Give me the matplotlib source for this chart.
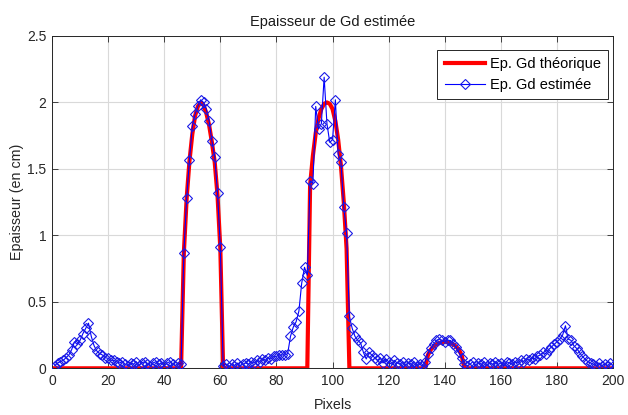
import matplotlib
matplotlib.use("Agg")
import matplotlib.pyplot as plt
import numpy as np

plt.rcParams['font.family'] = ['Liberation Sans', 'DejaVu Sans']

# Pixel positions 1..200
pixels = list(range(1, 201))

# Estimated thickness (blue, diamonds), one value per pixel
estimated = [
    0.02, 0.04, 0.05, 0.06, 0.08, 0.10, 0.14, 0.20, 0.18, 0.21,   # 1-10
    0.26, 0.30, 0.34, 0.24, 0.17, 0.13, 0.11, 0.10, 0.08, 0.075,  # 11-20
    0.06, 0.06, 0.05, 0.04, 0.05, 0.03, 0.02, 0.04, 0.03, 0.05,   # 21-30
    0.02, 0.04, 0.05, 0.03, 0.02, 0.04, 0.05, 0.03, 0.04, 0.02,   # 31-40
    0.04, 0.05, 0.03, 0.02, 0.04, 0.03, 0.87, 1.28, 1.57, 1.82,   # 41-50
    1.91, 1.97, 2.02, 2.00, 1.95, 1.86, 1.71, 1.59, 1.32, 0.91,   # 51-60
    0.02, 0.03, 0.01, 0.03, 0.02, 0.04, 0.02, 0.03, 0.04, 0.03,   # 61-70
    0.05, 0.04, 0.06, 0.05, 0.07, 0.06, 0.08, 0.07, 0.09, 0.09,   # 71-80
    0.10, 0.10, 0.10, 0.11, 0.24, 0.31, 0.35, 0.43, 0.64, 0.76,   # 81-90
    0.70, 1.41, 1.39, 1.97, 1.80, 1.84, 2.19, 1.84, 1.70, 1.72,   # 91-100
    2.02, 1.61, 1.55, 1.21, 1.02, 0.39, 0.30, 0.24, 0.21, 0.19,   # 101-110
    0.12, 0.07, 0.12, 0.10, 0.08, 0.06, 0.08, 0.04, 0.07, 0.05,   # 111-120
    0.03, 0.06, 0.04, 0.03, 0.05, 0.02, 0.04, 0.03, 0.05, 0.02,   # 121-130
    0.03, 0.02, 0.05, 0.11, 0.15, 0.18, 0.21, 0.22, 0.21, 0.20,   # 131-140
    0.21, 0.21, 0.18, 0.16, 0.12, 0.08, 0.03, 0.02, 0.03, 0.05,   # 141-150
    0.02, 0.04, 0.03, 0.05, 0.02, 0.04, 0.03, 0.05, 0.03, 0.04,   # 151-160
    0.02, 0.05, 0.04, 0.03, 0.05, 0.04, 0.06, 0.05, 0.07, 0.06,   # 161-170
    0.08, 0.07, 0.09, 0.10, 0.12, 0.11, 0.14, 0.16, 0.18, 0.20,   # 171-180
    0.22, 0.25, 0.32, 0.22, 0.21, 0.17, 0.15, 0.12, 0.09, 0.07,   # 181-190
    0.05, 0.04, 0.03, 0.02, 0.04, 0.02, 0.03, 0.02, 0.04, 0.02,   # 191-200
]

# Theoretical thickness (red): zero except on three objects
peak1_start = 46
peak1_values = [0.0, 0.87, 1.28, 1.56, 1.76, 1.90, 1.97, 2.00, 1.98, 1.92,
                1.83, 1.70, 1.55, 1.30, 0.90, 0.0]
peak2_start = 91
peak2_values = [0.0, 1.38, 1.60, 1.77, 1.88, 1.95, 1.99, 2.00, 1.99, 1.95,
                1.86, 1.72, 1.52, 1.25, 0.90, 0.0]
peak3_start = 133
peak3_values = [0.0, 0.10, 0.14, 0.165, 0.18, 0.19, 0.198, 0.20, 0.198, 0.19,
                0.18, 0.165, 0.14, 0.10, 0.0]

theoretical = [0.0] * len(pixels)
for start, vals in [(peak1_start, peak1_values), (peak2_start, peak2_values),
                    (peak3_start, peak3_values)]:
    for i, v in enumerate(vals):
        theoretical[start - 1 + i] = v

x_ticks = list(range(0, 201, 20))
y_ticks = [0, 0.5, 1, 1.5, 2, 2.5]
y_tick_labels = ['0', '0.5', '1', '1.5', '2', '2.5']

fig = plt.figure(figsize=(6.28, 4.15), dpi=100)
ax = fig.add_axes([0.0828, 0.1125, 0.8935, 0.8008])

ax.plot(pixels, theoretical, color='#ff0000', lw=3, label='Ep. Gd théorique', zorder=2)
ax.plot(pixels, estimated, color='#0000ff', lw=0.8, marker='D', ms=5.3,
        mfc='none', mec='#1a1ae6', mew=0.8, label='Ep. Gd estimée', zorder=3)

ax.set_xlim(0, 200)
ax.set_ylim(0, 2.5)
ax.set_xticks(x_ticks)
ax.set_yticks(y_ticks)
ax.set_yticklabels(y_tick_labels)
ax.grid(True, color='#d9d9d9', lw=0.8)
ax.set_axisbelow(True)
ax.tick_params(direction='in', top=True, right=True, labelsize=10,
               colors='#262626', length=4, width=0.6, pad=4)
for s in ax.spines.values():
    s.set_color('#262626')
    s.set_linewidth(0.7)

ax.set_title('Epaisseur de Gd estimée', fontsize=10.5, color='#1a1a1a', pad=7)
ax.set_xlabel('Pixels', fontsize=10.3, color='#262626', labelpad=7)
ax.set_ylabel('Epaisseur (en cm)', fontsize=10.3, color='#262626', labelpad=2)

leg = ax.legend(loc='upper right', fontsize=10.5, fancybox=False, framealpha=1,
                edgecolor='#262626', borderpad=0.5, handlelength=2.8,
                handletextpad=0.3, labelspacing=0.45,
                bbox_to_anchor=(0.991, 0.958), borderaxespad=0)
leg.get_frame().set_linewidth(0.7)

fig.savefig('out.png', dpi=100)
